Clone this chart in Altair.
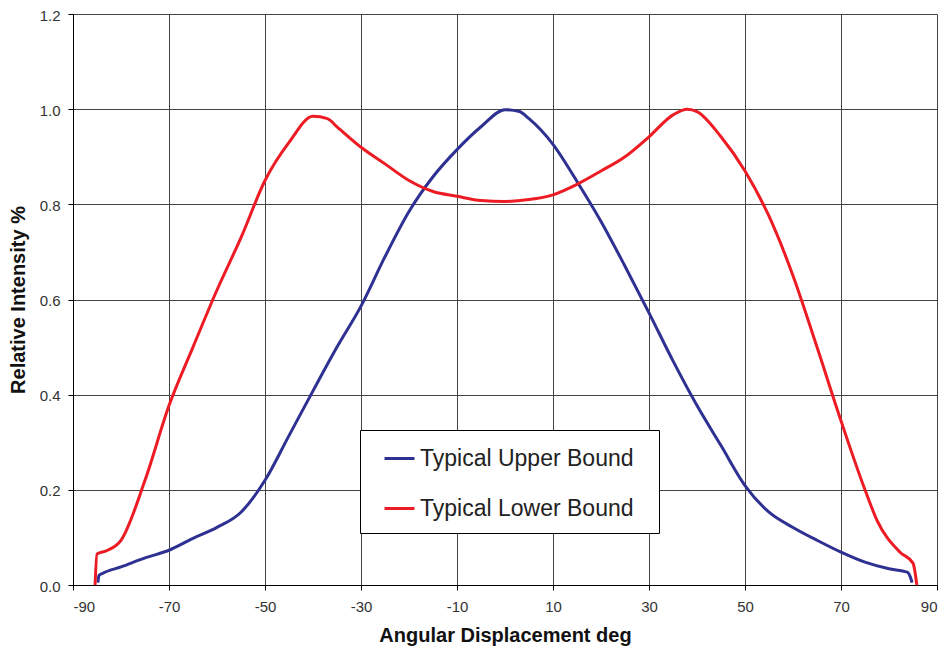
import altair as alt
import pandas as pd

# Typical Upper Bound (blue)
upper_x = [-84.8, -84.6, -83.7, -80, -75, -70, -65, -60, -55, -50, -45, -40, -35, -30, -25, -20,
           -15, -10, -5, 0, 3, 5, 10, 15, 20, 25, 30, 35, 40, 45, 50, 55, 60, 65, 70, 75, 80, 83.8, 84.6, 84.8]
upper_y = [0.005, 0.02, 0.025, 0.038, 0.057, 0.073, 0.098, 0.121, 0.153, 0.22, 0.314, 0.408, 0.50, 0.586,
           0.69, 0.785, 0.858, 0.915, 0.963, 0.999, 0.995, 0.98, 0.926, 0.848, 0.764, 0.67, 0.572, 0.471,
           0.377, 0.293, 0.209, 0.153, 0.121, 0.094, 0.069, 0.048, 0.034, 0.027, 0.012, 0.005]

# Typical Lower Bound (red)
lower_x = [-85.4, -85.0, -83, -80, -75, -70, -65, -60, -55, -50, -45, -40, -37, -35, -30, -25, -20,
           -15, -10, -5, 0, 5, 10, 15, 20, 25, 30, 35, 38, 40, 45, 50, 55, 60, 65, 70, 75, 77.5, 82.3, 85, 85.8]
lower_y = [0.0, 0.065, 0.072, 0.094, 0.22, 0.377, 0.50, 0.62, 0.73, 0.85, 0.93, 0.985, 0.98, 0.963, 0.92,
           0.885, 0.85, 0.827, 0.817, 0.808, 0.806, 0.81, 0.82, 0.842, 0.87, 0.90, 0.942, 0.988, 1.0, 0.995,
           0.942, 0.87, 0.775, 0.65, 0.50, 0.345, 0.20, 0.136, 0.069, 0.046, 0.0]

series_names = ["Typical Upper Bound", "Typical Lower Bound"]
series_colors = ["#2E3192", "#ED1C24"]
x_ticks = [-90, -70, -50, -30, -10, 10, 30, 50, 70, 90]
y_ticks = [0.0, 0.2, 0.4, 0.6, 0.8, 1.0, 1.2]

rows = []
for i, (xv, yv) in enumerate(zip(upper_x, upper_y)):
    rows.append({"x": xv, "y": yv, "series": series_names[0], "order": i})
for i, (xv, yv) in enumerate(zip(lower_x, lower_y)):
    rows.append({"x": xv, "y": yv, "series": series_names[1], "order": i})
df = pd.DataFrame(rows)

font = "Liberation Sans"

chart = alt.Chart(df).mark_line(strokeWidth=3, interpolate="monotone").encode(
    x=alt.X("x:Q", scale=alt.Scale(domain=[-90, 90], nice=False, zero=False),
            axis=alt.Axis(values=x_ticks, title="Angular Displacement deg",
                          labelExpr="'' + datum.value",
                          labelFontSize=15, titleFontSize=20, titleFontWeight="bold",
                          labelColor="#333333", titleColor="#111111", labelPadding=9,
                          titlePadding=11, tickSize=5, tickColor="#000000",
                          domainColor="#000000", gridColor="#444444", labelFont=font,
                          titleFont=font)),
    y=alt.Y("y:Q", scale=alt.Scale(domain=[0, 1.2], nice=False),
            axis=alt.Axis(values=y_ticks, title="Relative Intensity %", format=".1f",
                          labelFontSize=15, titleFontSize=20, titleFontWeight="bold",
                          labelColor="#333333", titleColor="#111111", labelPadding=8,
                          titlePadding=11, tickSize=5, tickColor="#000000",
                          domainColor="#000000", gridColor="#444444", labelFont=font,
                          titleFont=font, labelOffset=1)),
    color=alt.Color("series:N",
                    scale=alt.Scale(domain=series_names, range=series_colors),
                    legend=alt.Legend(title=".", titleOrient="right", titleColor="transparent",
                                      titleFontSize=8, titlePadding=10,
                                      orient="none", legendX=287, legendY=416,
                                      symbolType="stroke", symbolSize=900, symbolStrokeWidth=3,
                                      labelFontSize=23, labelFont=font, labelColor="#222222",
                                      fillColor="#ffffff", strokeColor="#000000",
                                      padding=12, symbolOffset=11, labelOffset=4,
                                      rowPadding=21, labelLimit=500)),
    order="order:Q",
).properties(
    width=864, height=571,
    autosize=alt.AutoSizeParams(type="none"),
    padding={"left": 65, "top": 6, "right": 4, "bottom": 68},
).configure_view(stroke="#888888").configure(background="#ffffff")

chart.save("out.html", embed_options={"renderer": "svg", "actions": False})
